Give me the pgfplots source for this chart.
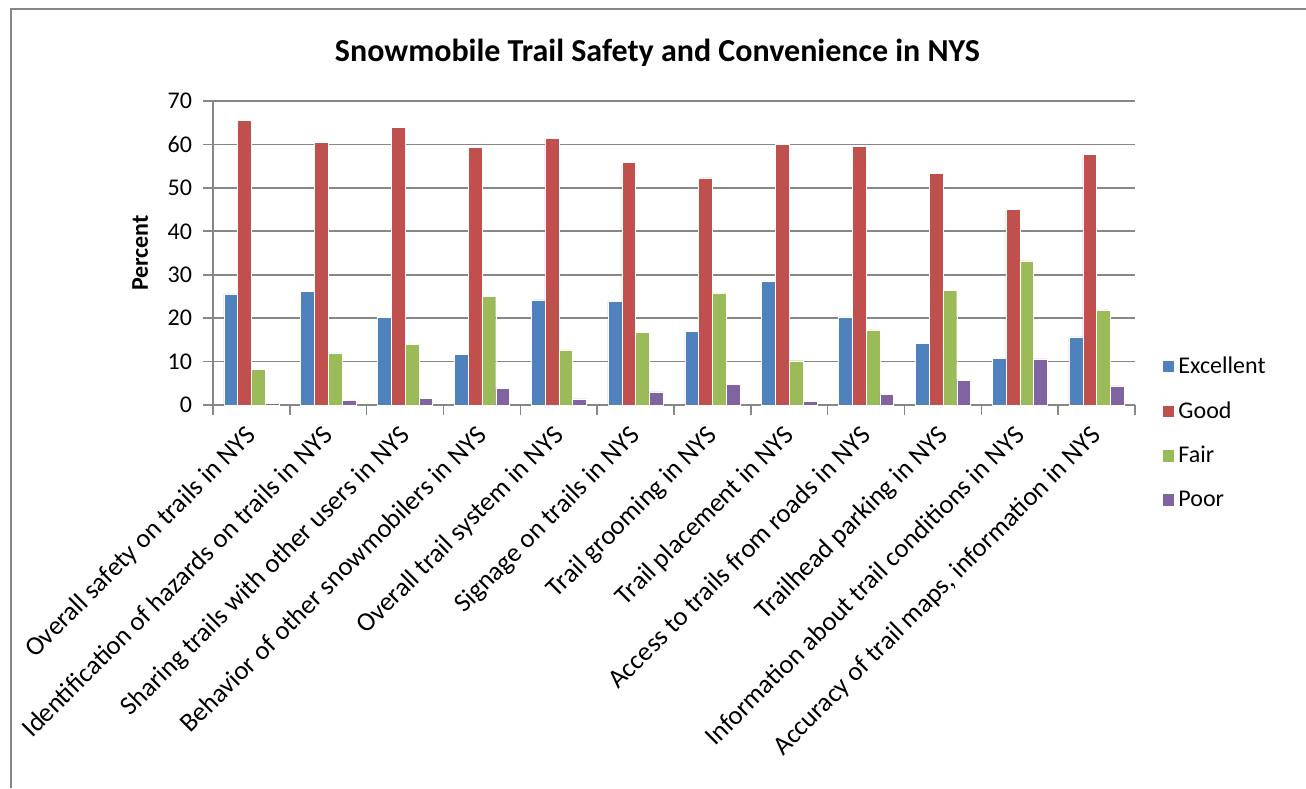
\documentclass[border=0pt]{standalone}
\usepackage{pgfplots}
\pgfplotsset{compat=1.18}
\usepackage{fontspec}
\setmainfont{Carlito}
\definecolor{cExc}{HTML}{4F81BD}
\definecolor{cGood}{HTML}{C0504D}
\definecolor{cFair}{HTML}{9BBB59}
\definecolor{cPoor}{HTML}{8064A2}
\definecolor{gridg}{HTML}{878787}
\begin{document}
\begin{tikzpicture}
\path[use as bounding box] (0,0) rectangle (653pt,394pt);
\draw[gridg, line width=0.8pt] (5.5pt,0pt) -- (5.5pt,389.5pt) -- (660pt,389.5pt);
\begin{axis}[
  at={(106.5pt,191.5pt)}, anchor=south west,
  scale only axis, width=461pt, height=152pt,
  ybar=0pt, bar width=6.9pt,
  xmin=-0.5, xmax=11.5, ymin=0, ymax=70,
  ytick={0,10,...,70},
  xtick={0,...,11},
  minor xtick={-0.5,0.5,...,11.5},
  xticklabels={Overall safety on trails in NYS,Identification of hazards on trails in NYS,Sharing trails with other users in NYS,Behavior of other snowmobilers in NYS,Overall trail system in NYS,Signage on trails in NYS,Trail grooming in NYS,Trail placement in NYS,Access to trails from roads in NYS,Trailhead parking in NYS,Information about trail conditions in NYS,{Accuracy of trail maps, information in NYS}},
  x tick label style={xshift=-3.5pt, yshift=-2.6pt, rotate=45, anchor=north east, font=\fontsize{13.3}{15}\selectfont, inner sep=1pt},
  major x tick style={draw=none},
  minor x tick style={draw=gridg, line width=0.8pt},
  minor tick length=5pt,
  y tick label style={font=\fontsize{12}{14}\selectfont, xshift=-2pt},
  /pgf/number format/assume math mode=true,
  ymajorgrids, grid style={gridg, line width=0.8pt},
  axis x line*=bottom, axis y line*=left,
  axis line style={gridg, line width=0.8pt, -},
  y tick style={gridg, line width=0.8pt}, tick align=outside, major tick length=5pt,
  ylabel={\textbf{Percent}},
  ylabel style={at={(axis description cs:-0.079,0.5)}, anchor=center, font=\fontsize{12}{14}\selectfont},
  title={\textbf{Snowmobile Trail Safety and Convenience in NYS}},
  title style={at={(axis description cs:0.482,1.12)}, anchor=center, font=\fontsize{16}{18}\selectfont},
  legend style={at={(1.022,-0.092)}, anchor=west, draw=none, fill=none, font=\fontsize{12}{14}\selectfont, row sep=8.5pt},
  legend cell align=left,
  legend image code/.code={\fill[#1] (0pt,-3pt) rectangle (6.2pt,3.2pt);},
  every axis plot/.append style={draw=white, line width=0.2pt},
]
\addplot[fill=cExc] coordinates {(0,25.6)(1,26.2)(2,20.2)(3,11.6)(4,24.2)(5,23.9)(6,17.0)(7,28.4)(8,20.3)(9,14.2)(10,10.8)(11,15.7)};
\addplot[fill=cGood] coordinates {(0,65.5)(1,60.5)(2,63.9)(3,59.3)(4,61.4)(5,55.9)(6,52.3)(7,60.1)(8,59.6)(9,53.3)(10,45.1)(11,57.7)};
\addplot[fill=cFair] coordinates {(0,8.2)(1,12.0)(2,14.0)(3,25.1)(4,12.7)(5,16.8)(6,25.8)(7,10.2)(8,17.3)(9,26.4)(10,33.2)(11,21.9)};
\addplot[fill=cPoor] coordinates {(0,0.4)(1,1.1)(2,1.5)(3,3.8)(4,1.4)(5,3.0)(6,4.7)(7,0.85)(8,2.5)(9,5.7)(10,10.6)(11,4.4)};
\legend{Excellent,Good,Fair,Poor}
\end{axis}
\end{tikzpicture}
\end{document}
